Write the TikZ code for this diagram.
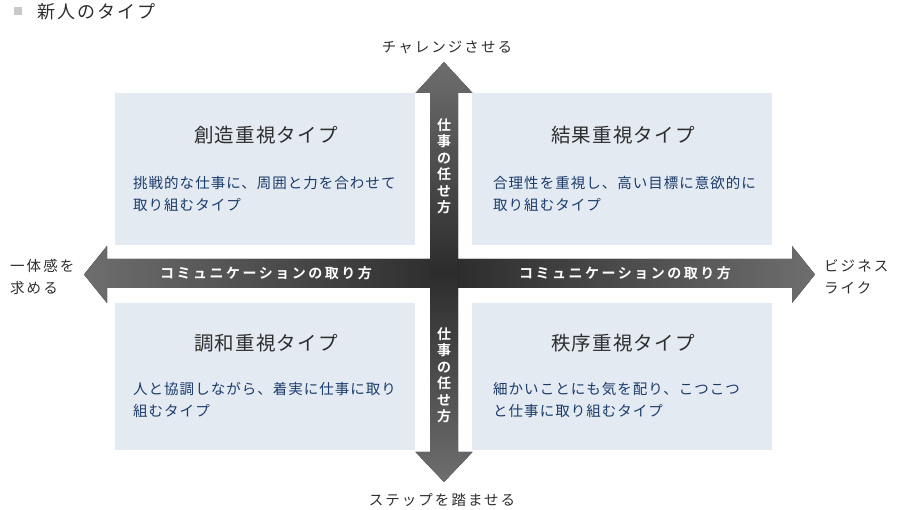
\documentclass[tikz,border=0pt]{standalone}
\usepackage{fontspec}
\setmainfont{Noto Sans CJK JP}
\newfontfamily\jphead[LetterSpace=12]{Noto Sans CJK JP}
\newfontfamily\jpdesc[LetterSpace=7]{Noto Sans CJK JP}
\newfontfamily\jpttl[LetterSpace=6]{Noto Sans CJK JP}
\newfontfamily\jpouter[LetterSpace=14]{Noto Sans CJK JP}
\newfontfamily\jpbold[LetterSpace=18]{Noto Sans CJK JP Bold}
\newfontfamily\jpboldv{Noto Sans CJK JP Bold}
\definecolor{boxbg}{HTML}{E4EAF2}
\definecolor{desccol}{HTML}{1B3C6B}
\definecolor{ttlcol}{HTML}{2E2E2E}
\definecolor{arrlight}{HTML}{6E6E6E}
\definecolor{arrdark}{HTML}{2C2C2C}
\definecolor{sqcol}{HTML}{C8C8C8}
\tikzset{
  qbox/.style={fill=boxbg, inner sep=0pt, minimum width=300pt},
  qtitle/.style={text=ttlcol, inner sep=0pt, font=\fontsize{19.5}{22}\jpttl},
  qdesc/.style={text=desccol, inner sep=0pt, anchor=base west, font=\fontsize{14.5}{22}\jpdesc},
  outer/.style={text=ttlcol, inner sep=0pt, font=\fontsize{14.5}{22}\jpouter},
  alab/.style={text=white, inner sep=0pt, font=\fontsize{14}{16.5}\jpbold},
  vlab/.style={text=white, inner sep=0pt, align=center, font=\fontsize{14}{16.5}\jpboldv},
}
\begin{document}
\begin{tikzpicture}[x=1pt,y=-1pt]
\useasboundingbox (0,0) rectangle (900,510);
% heading
\fill[sqcol] (14,7) rectangle (22,15);
\node[anchor=west, inner sep=0pt, text=ttlcol, font=\fontsize{18}{20}\jphead] (head) at (37,11.5) {新人のタイプ};
% boxes
\node[qbox, minimum height=152pt] (tl) at (265,169) {};
\node[qbox, minimum height=152pt] (tr) at (622,169) {};
\node[qbox, minimum height=147pt] (bl) at (265,376.5) {};
\node[qbox, minimum height=147pt] (br) at (622,376.5) {};
% horizontal arrow
\fill[left color=arrlight, right color=arrlight, middle color=arrdark]
  (84,274.5) -- (107,246) -- (107,259) -- (792,259) -- (792,246) -- (815,274.5)
  -- (792,303) -- (792,288) -- (107,288) -- (107,303) -- cycle;
% vertical arrow
\fill[top color=arrlight, bottom color=arrlight, middle color=arrdark]
  (444,62) -- (472.5,93) -- (458,93) -- (458,452) -- (472.5,452) -- (444,482)
  -- (415.5,452) -- (430,452) -- (430,93) -- (415.5,93) -- cycle;
% arrow labels
\node[alab] (hl) at (266,273.5) {コミュニケーションの取り方};
\node[alab] (hr) at (625,273.5) {コミュニケーションの取り方};
\node[vlab] (vt) at (444,166) {仕\\事\\の\\任\\せ\\方};
\node[vlab] (vb) at (444,375) {仕\\事\\の\\任\\せ\\方};
% outer labels
\node[outer] (up) at (447,47) {チャレンジさせる};
\node[outer] (down) at (442,500) {ステップを踏ませる};
\node[outer, anchor=west, align=left] (left) at (10,277) {一体感を\\求める};
\node[outer, anchor=west, align=left] (right) at (824,277) {ビジネス\\ライク};
% box texts
\node[qtitle] (tlt) at (266,135.5) {創造重視タイプ};
\node[qdesc] (tld1) at (133,189) {挑戦的な仕事に、周囲と力を合わせて};
\node[qdesc] (tld2) at (133,211) {取り組むタイプ};
\node[qtitle] (trt) at (623,135.5) {結果重視タイプ};
\node[qdesc] (trd1) at (493,189) {合理性を重視し、高い目標に意欲的に};
\node[qdesc] (trd2) at (493,211) {取り組むタイプ};
\node[qtitle] (blt) at (266,343.5) {調和重視タイプ};
\node[qdesc] (bld1) at (133,395) {人と協調しながら、着実に仕事に取り};
\node[qdesc] (bld2) at (133,417) {組むタイプ};
\node[qtitle] (brt) at (623,343.5) {秩序重視タイプ};
\node[qdesc] (brd1) at (493,395) {細かいことにも気を配り、こつこつ};
\node[qdesc] (brd2) at (493,417) {と仕事に取り組むタイプ};
\end{tikzpicture}
\end{document}
